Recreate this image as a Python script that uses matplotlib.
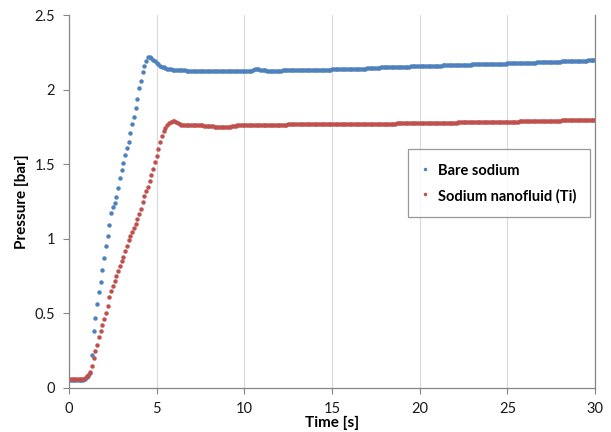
import numpy as np
import matplotlib
matplotlib.use("Agg")
import matplotlib.pyplot as plt

plt.rcParams["font.family"] = ["Lato", "DejaVu Sans"]

BLUE = "#4F81BD"
RED = "#C0504D"

# time base: one sample every 0.1 s, 0 .. 30 s
time_s = np.round(np.arange(0, 301) * 0.1, 1)

# Bare sodium pressure [bar], one row per second
bare = [
    0.050, 0.050, 0.050, 0.050, 0.050, 0.050, 0.050, 0.050, 0.050, 0.060,
    0.070, 0.080, 0.100, 0.220, 0.380, 0.470, 0.560, 0.640, 0.710, 0.790,
    0.870, 0.950, 1.020, 1.090, 1.170, 1.210, 1.240, 1.280, 1.340, 1.410,
    1.460, 1.510, 1.560, 1.610, 1.650, 1.710, 1.770, 1.820, 1.880, 1.940,
    2.010, 2.060, 2.120, 2.160, 2.190, 2.220, 2.220, 2.210, 2.200, 2.190,
    2.180, 2.170, 2.162, 2.155, 2.150, 2.146, 2.142, 2.139, 2.137, 2.135,
    2.134, 2.133, 2.132, 2.131, 2.130, 2.130, 2.129, 2.128, 2.128, 2.127,
    2.127, 2.126, 2.126, 2.126, 2.125, 2.125, 2.125, 2.125, 2.125, 2.125,
    2.125, 2.125, 2.124, 2.124, 2.124, 2.124, 2.125, 2.125, 2.125, 2.125,
    2.125, 2.125, 2.125, 2.125, 2.125, 2.125, 2.125, 2.125, 2.125, 2.125,
    2.125, 2.125, 2.125, 2.125, 2.126, 2.130, 2.136, 2.140, 2.137, 2.133,
    2.131, 2.130, 2.129, 2.128, 2.128, 2.128, 2.128, 2.128, 2.128, 2.128,
    2.128, 2.128, 2.129, 2.129, 2.129, 2.129, 2.130, 2.130, 2.130, 2.130,
    2.130, 2.130, 2.131, 2.131, 2.131, 2.132, 2.132, 2.132, 2.132, 2.133,
    2.133, 2.133, 2.133, 2.134, 2.134, 2.134, 2.135, 2.135, 2.135, 2.135,
    2.136, 2.136, 2.136, 2.137, 2.137, 2.137, 2.138, 2.138, 2.138, 2.139,
    2.139, 2.139, 2.140, 2.140, 2.140, 2.141, 2.141, 2.141, 2.142, 2.142,
    2.143, 2.143, 2.144, 2.145, 2.146, 2.147, 2.148, 2.148, 2.149, 2.149,
    2.150, 2.150, 2.150, 2.151, 2.151, 2.151, 2.152, 2.152, 2.152, 2.153,
    2.153, 2.154, 2.154, 2.155, 2.155, 2.156, 2.156, 2.157, 2.157, 2.157,
    2.158, 2.158, 2.159, 2.159, 2.159, 2.160, 2.160, 2.160, 2.161, 2.161,
    2.162, 2.162, 2.162, 2.163, 2.163, 2.163, 2.164, 2.164, 2.164, 2.165,
    2.165, 2.165, 2.166, 2.166, 2.166, 2.167, 2.167, 2.167, 2.168, 2.168,
    2.169, 2.169, 2.169, 2.170, 2.170, 2.170, 2.171, 2.171, 2.171, 2.172,
    2.172, 2.173, 2.173, 2.173, 2.174, 2.174, 2.174, 2.175, 2.175, 2.175,
    2.176, 2.176, 2.177, 2.177, 2.177, 2.178, 2.178, 2.179, 2.179, 2.179,
    2.180, 2.180, 2.181, 2.181, 2.182, 2.182, 2.182, 2.183, 2.183, 2.184,
    2.184, 2.185, 2.185, 2.185, 2.186, 2.186, 2.187, 2.187, 2.187, 2.188,
    2.188, 2.189, 2.189, 2.190, 2.190, 2.190, 2.191, 2.191, 2.192, 2.192,
    2.193, 2.193, 2.194, 2.194, 2.195, 2.195, 2.196, 2.196, 2.197, 2.197,
    2.198,
]

# Sodium nanofluid (Ti) pressure [bar], one row per second
nano = [
    0.060, 0.060, 0.060, 0.060, 0.060, 0.060, 0.060, 0.060, 0.060, 0.065,
    0.080, 0.090, 0.110, 0.150, 0.200, 0.250, 0.290, 0.340, 0.380, 0.420,
    0.460, 0.500, 0.550, 0.610, 0.650, 0.685, 0.720, 0.750, 0.785, 0.815,
    0.850, 0.880, 0.915, 0.950, 0.990, 1.020, 1.045, 1.070, 1.100, 1.130,
    1.165, 1.200, 1.245, 1.290, 1.320, 1.350, 1.390, 1.425, 1.470, 1.515,
    1.555, 1.600, 1.650, 1.690, 1.720, 1.745, 1.762, 1.777, 1.786, 1.790,
    1.788, 1.782, 1.775, 1.768, 1.764, 1.762, 1.763, 1.764, 1.765, 1.766,
    1.766, 1.765, 1.764, 1.763, 1.762, 1.761, 1.760, 1.759, 1.758, 1.757,
    1.756, 1.755, 1.754, 1.753, 1.752, 1.752, 1.751, 1.751, 1.751, 1.751,
    1.752, 1.752, 1.753, 1.754, 1.756, 1.758, 1.760, 1.761, 1.762, 1.762,
    1.763, 1.763, 1.763, 1.764, 1.764, 1.764, 1.764, 1.764, 1.764, 1.764,
    1.765, 1.765, 1.765, 1.765, 1.765, 1.765, 1.765, 1.766, 1.766, 1.766,
    1.766, 1.766, 1.766, 1.766, 1.766, 1.767, 1.767, 1.767, 1.767, 1.767,
    1.767, 1.767, 1.767, 1.767, 1.768, 1.768, 1.768, 1.768, 1.768, 1.768,
    1.768, 1.768, 1.768, 1.768, 1.768, 1.769, 1.769, 1.769, 1.769, 1.769,
    1.769, 1.769, 1.769, 1.769, 1.770, 1.770, 1.770, 1.770, 1.770, 1.770,
    1.770, 1.770, 1.770, 1.770, 1.771, 1.771, 1.771, 1.771, 1.771, 1.771,
    1.771, 1.771, 1.771, 1.772, 1.772, 1.772, 1.772, 1.772, 1.772, 1.772,
    1.772, 1.772, 1.773, 1.773, 1.773, 1.773, 1.773, 1.774, 1.774, 1.774,
    1.774, 1.774, 1.774, 1.775, 1.775, 1.775, 1.775, 1.775, 1.776, 1.776,
    1.776, 1.776, 1.776, 1.776, 1.777, 1.777, 1.777, 1.777, 1.777, 1.777,
    1.777, 1.777, 1.778, 1.778, 1.778, 1.778, 1.778, 1.779, 1.779, 1.779,
    1.779, 1.779, 1.780, 1.780, 1.780, 1.780, 1.780, 1.781, 1.781, 1.781,
    1.781, 1.781, 1.782, 1.782, 1.782, 1.782, 1.782, 1.783, 1.783, 1.783,
    1.783, 1.783, 1.784, 1.784, 1.784, 1.784, 1.784, 1.785, 1.785, 1.785,
    1.785, 1.785, 1.786, 1.786, 1.786, 1.786, 1.786, 1.787, 1.787, 1.787,
    1.787, 1.788, 1.788, 1.788, 1.789, 1.789, 1.789, 1.790, 1.790, 1.790,
    1.790, 1.791, 1.791, 1.791, 1.792, 1.792, 1.792, 1.793, 1.793, 1.793,
    1.793, 1.794, 1.794, 1.794, 1.795, 1.795, 1.795, 1.796, 1.796, 1.796,
    1.796, 1.797, 1.797, 1.797, 1.798, 1.798, 1.798, 1.799, 1.799, 1.799,
    1.799,
]

x_ticks = [0, 5, 10, 15, 20, 25, 30]
y_ticks = [0, 0.5, 1, 1.5, 2, 2.5]
y_tick_labels = ["0", "0.5", "1", "1.5", "2", "2.5"]

fig = plt.figure(figsize=(6.11, 4.32), dpi=100)
ax = fig.add_axes([0.113, 0.102, 0.861, 0.863])

ax.plot(time_s, bare, ls="none", marker="o", ms=3.2, mew=0,
        color=BLUE, label="Bare sodium")
ax.plot(time_s, nano, ls="none", marker="o", ms=3.2, mew=0,
        color=RED, label="Sodium nanofluid (Ti)")

ax.set_xlim(0, 30)
ax.set_ylim(0, 2.5)
ax.set_xticks(x_ticks)
ax.set_yticks(y_ticks)
ax.set_yticklabels(y_tick_labels)
ax.tick_params(direction="out", length=4, width=0.8, color="#868686",
               labelsize=10.5, labelcolor="#1a1a1a")
ax.tick_params(axis="y", pad=6)
ax.tick_params(axis="x", pad=6)

ax.grid(True, axis="x", color="#d9d9d9", lw=0.8)
ax.set_axisbelow(True)
ax.spines["top"].set_visible(False)
for side in ["left", "bottom", "right"]:
    ax.spines[side].set_color("#868686")
    ax.spines[side].set_linewidth(0.9)

ax.set_xlabel("Time [s]", fontsize=11, fontweight="bold", labelpad=0)
ax.set_ylabel("Pressure [bar]", fontsize=11, fontweight="bold", labelpad=4)

leg = ax.legend(loc="upper left", bbox_to_anchor=(0.644, 0.641),
                frameon=True, fancybox=False, markerscale=0.8,
                handlelength=0.6, handleheight=1.35, handletextpad=0.6,
                labelspacing=0.65, borderpad=0.9, borderaxespad=0,
                prop={"weight": "bold", "size": 10.5})
leg.get_frame().set_edgecolor("#808080")
leg.get_frame().set_linewidth(0.9)

fig.savefig("out.png", dpi=100)
